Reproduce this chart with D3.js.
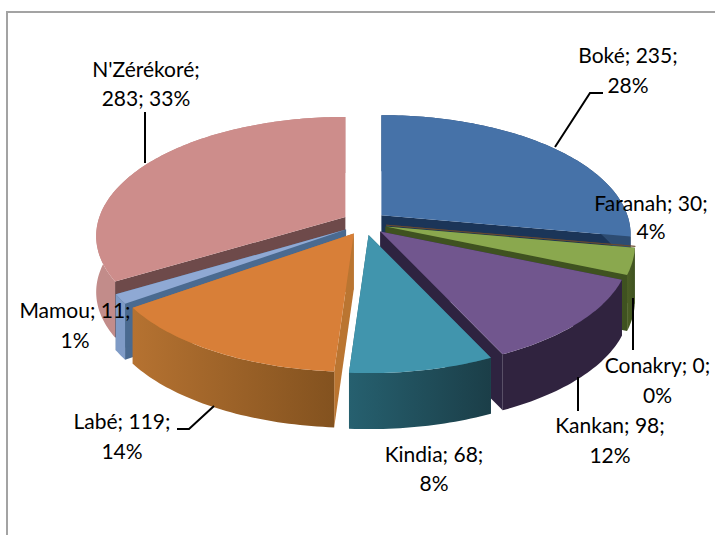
<!DOCTYPE html>
<html><head><meta charset="utf-8">
<script src="https://cdn.jsdelivr.net/npm/d3@7"></script>
<style>html,body{margin:0;padding:0;background:#fff}svg{display:block}</style>
</head><body>
<div id="chart"></div>
<script>
// Data, in the order the slices run clockwise from twelve o'clock
const categories = ["Boké","Conakry","Faranah","Kankan","Kindia","Labé","Mamou","N'Zérékoré"];
const values     = [235,0,30,98,68,119,11,283];
const percents   = ["28%","0%","4%","12%","8%","14%","1%","33%"];
const topColors  = ["#4672A8","#6B4A2E","#8AA84E","#71568E","#4195AD","#D87F38","#8FA9D4","#CD8D8B"];
const wallLeft   = ["#2D4C72","#5A2622","#4C5F25","#30233F","#26606F","#B57231","#7F9BC6","#C28C8A"];
const wallRight  = ["#2D4C72","#5A2622","#3F5220","#30233F","#1B3E48","#83521F","#7F9BC6","#C28C8A"];
const cutColors  = ["#1B3558","#5A2622","#3F5220","#2E2340","#26606F","#BA7531","#4A6A90","#6E4A4A"];
const paintOrder = ["Boké","Conakry","Faranah","N'Zérékoré","Mamou","Labé","Kankan","Kindia"];
// label text layout: [category, centre x, first baseline, second baseline, first line, second line]
const labelLayout = [
  ["Boké",628,63,93,"Boké; 235;","28%"],
  ["Faranah",651,211,239,"Faranah; 30;","4%"],
  ["Conakry",657.5,373,403,"Conakry; 0;","0%"],
  ["Kankan",610,433,463,"Kankan; 98;","12%"],
  ["Kindia",434,462,491,"Kindia; 68;","8%"],
  ["Labé",122,429,459,"Labé; 119;","14%"],
  ["Mamou",75,318,348,"Mamou; 11;","1%"],
  ["N'Zérékoré",146,77,106,"N'Zérékoré;","283; 33%"]
];
const leaders = [
  [[555,147],[590,93],[603,93]],
  [[145,163],[145,112]],
  [[633,298],[633,350]],
  [[578,377],[578,411]],
  [[214,406],[189,429],[177,429]]
];

const W = 715, H = 535;
const cx = 364.5, cy = 223;    // pie centre on the page
const R = 246, tilt = 0.472;   // radius and vertical squash
const persp = 0.16;            // perspective strength (R / camera distance)
const explode = 22, explodeTilt = 0.55, depth = 56;

const svg = d3.select("#chart").append("svg").attr("width",W).attr("height",H);
const defs = svg.append("defs");

svg.append("path").attr("d",d3.line()([[7,535],[7,12],[715,12]]))
  .attr("fill","none").attr("stroke","#A3A3A3").attr("stroke-width",2);

const pie = d3.pie().value((d,i)=>values[i]).sort(null);
const arcs = pie(categories);

// Ground-plane point relative to a slice's apex, in page pixels
function project(a){
  const x = R*Math.sin(a), z = -R*Math.cos(a);
  const s = 1/(1 - persp*z/R);
  return [x*s, z*tilt*s];
}
const line = d3.line();

const slices = arcs.map((a,i)=>{
  const mid = (a.startAngle+a.endAngle)/2;
  const apex = [cx+explode*Math.sin(mid), cy-explode*explodeTilt*Math.cos(mid)];
  const steps = Math.max(2,Math.ceil((a.endAngle-a.startAngle)/0.02));
  const rim = d3.range(steps+1).map(k=>{
    const p = project(a.startAngle+(a.endAngle-a.startAngle)*k/steps);
    return [apex[0]+p[0],apex[1]+p[1]];
  });
  return {i,name:categories[i],apex,rim};
});

const down = p=>[p[0],p[1]+depth];

paintOrder.forEach(name=>{
  const s = slices.find(d=>d.name===name), i = s.i;
  const g = svg.append("g").attr("class","slice");
  const first = s.rim[0], last = s.rim[s.rim.length-1];
  const gid = "wall"+i;
  const xs = d3.extent(s.rim,d=>d[0]);
  const grad = defs.append("linearGradient").attr("id",gid)
    .attr("gradientUnits","userSpaceOnUse")
    .attr("x1",xs[0]).attr("x2",xs[1]||xs[0]+1).attr("y1",0).attr("y2",0);
  grad.append("stop").attr("offset",0).attr("stop-color",wallLeft[i]);
  grad.append("stop").attr("offset",1).attr("stop-color",wallRight[i]);
  if(values[i]>0){
    // two cut faces
    [first,last].forEach(e=>{
      g.append("path").attr("d",line([s.apex,e,down(e),down(s.apex)])+"Z").attr("fill",cutColors[i]);
    });
    // outer wall
    g.append("path").attr("d",line(s.rim.concat(s.rim.slice().reverse().map(down)))+"Z")
      .attr("fill",`url(#${gid})`);
  }
  // top face
  const top = g.append("path").attr("d",line([s.apex].concat(s.rim))+"Z").attr("fill",topColors[i]);
  if(values[i]===0) top.attr("stroke",topColors[i]).attr("stroke-width",0.8);
});

// Leader lines
leaders.forEach(l=>{
  svg.append("path").attr("d",line(l)).attr("fill","none").attr("stroke","#000").attr("stroke-width",2);
});

// Labels
const text = svg.append("g").attr("font-family","Lato, Carlito, sans-serif").attr("font-size",21)
  .attr("fill","#000").attr("text-anchor","middle");
labelLayout.forEach(l=>{
  text.append("text").attr("x",l[1]).attr("y",l[2]).text(l[4]);
  text.append("text").attr("x",l[1]).attr("y",l[3]).text(l[5]);
});
</script>
</body></html>
